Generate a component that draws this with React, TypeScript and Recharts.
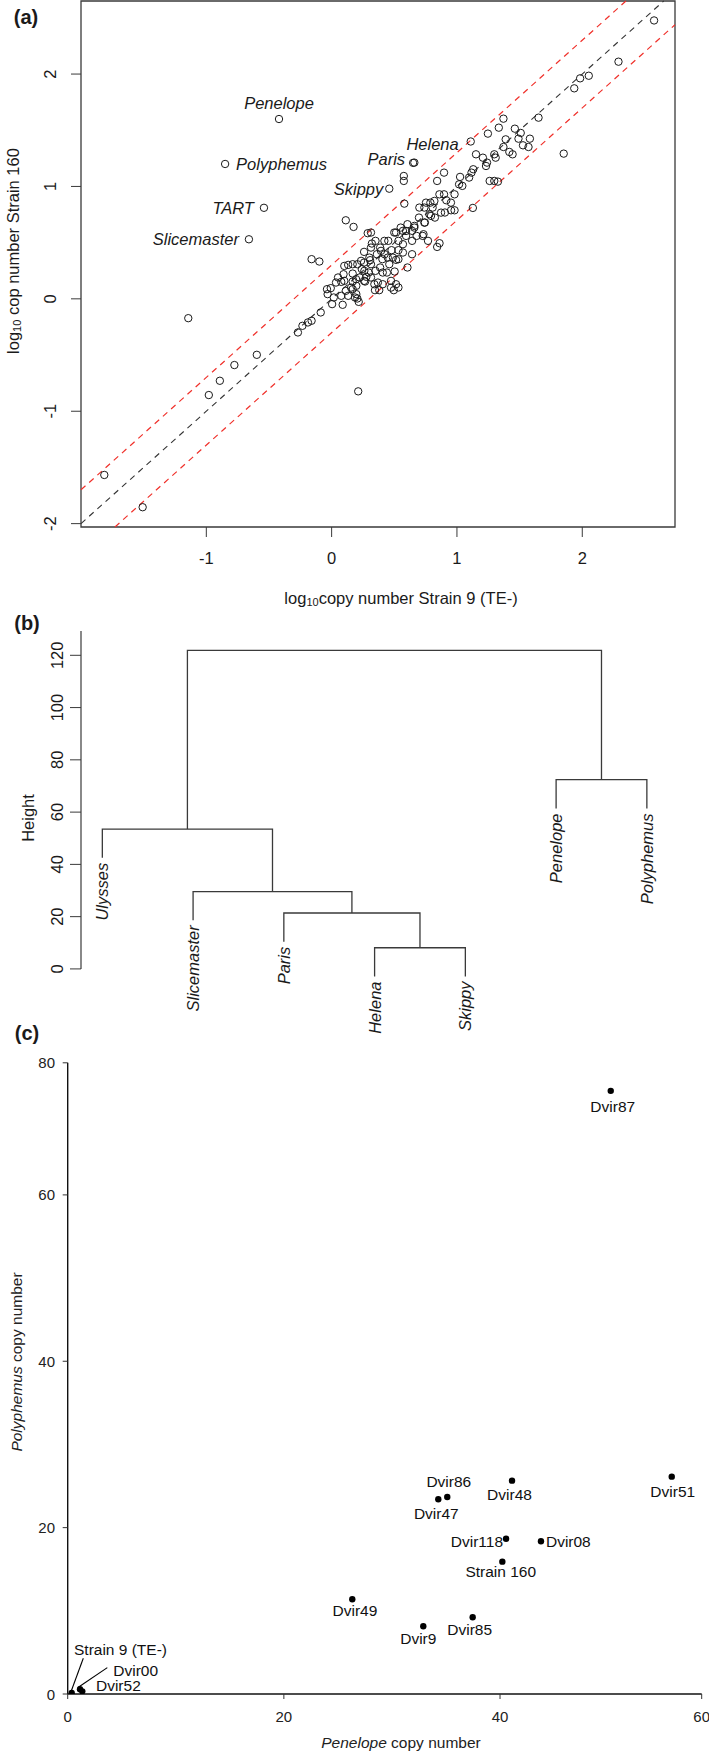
import React from 'react';
import { ScatterChart, Scatter, XAxis, YAxis, ReferenceLine, ReferenceArea } from 'recharts';

const FONT = '"Liberation Sans", Arial, Helvetica, sans-serif';
const INK = '#1a1a1a';
const LINE = '#3a3a3a';

// ---------------- Panel (a): log10 copy numbers ----------------
const strain9Log = [
  2.573, 2.289, 2.052, 1.983, 1.936, 1.651, 1.371, 1.334, 1.247, 1.462, 1.509, 1.389, 1.491, 1.582, 1.527, 1.571,
  1.371, 1.418, 1.444, 1.152, 1.207, 1.24, 1.309, 1.298, 1.232, 1.852, 1.13, 1.116, 1.097, 1.025, 1.017, 1.043,
  1.261, 1.298, 1.327, 0.981, 0.952, 0.897, 0.915, 0.842, 0.897, 1.127, 0.788, 0.806, 0.74, 0.824, 0.904, 0.981,
  0.78, 0.697, 0.744, 0.842, 0.861, 0.769, 0.733, 0.66, 0.678, 0.642, 0.569, 0.605, 0.551, 0.514, 0.594, 0.642,
  0.569, 0.533, 0.452, 0.35, 0.314, 0.321, 0.387, 0.478, 0.533, 0.569, 0.642, 0.423, 0.489, 0.361, 0.259, 0.307,
  0.405, 0.46, 0.533, 0.387, 0.314, 0.259, 0.205, 0.132, 0.241, 0.296, 0.35, 0.441, 0.503, 0.605, 0.168, 0.223,
  0.277, 0.095, 0.051, 0.077, 0.168, 0.259, 0.197, 0.314, 0.369, 0.514, 0.533, 0.496, 0.38, 0.168, 0.113, 0.077,
  0.132, 0.197, 0.205, 0.216, -0.007, -0.032, 0.004, 0.088, -0.087, -0.16, -0.189, -0.233, -0.269, 0.113, 0.175,
  -0.16, -0.098, 0.58, 0.576, 0.576, 0.66, -1.144, -0.597, -0.776, -0.892, -0.98, 0.212, -1.814, -1.508,
  -0.037, 0.035, 0.017, 0.101, 0.168, 0.235, 0.301, 0.261, 0.195, 0.155, 0.187, 0.267, 0.341, 0.408, 0.474,
  0.346, 0.408, 0.514, 0.448, 0.421, 0.394, 0.314, 0.288, 0.5, 0.594, 0.727, 0.66, 0.74, 0.793, 0.7, 0.753,
  0.82, 0.873, 0.953, 0.86, 0.474, 0.101,
];
const strain160Log = [
  2.477, 2.11, 1.985, 1.962, 1.873, 1.612, 1.603, 1.523, 1.47, 1.514, 1.476, 1.419, 1.425, 1.425, 1.366, 1.351,
  1.351, 1.307, 1.286, 1.286, 1.256, 1.212, 1.256, 1.286, 1.182, 1.292, 1.153, 1.123, 1.079, 1.085, 1.019, 1.005,
  1.049, 1.049, 1.043, 0.93, 0.856, 0.93, 0.877, 1.049, 1.123, 0.809, 0.856, 0.812, 0.812, 0.723, 0.768, 0.788,
  0.753, 0.723, 0.679, 0.462, 0.495, 0.516, 0.575, 0.634, 0.56, 0.605, 0.605, 0.664, 0.634, 0.59, 0.56, 0.516,
  0.486, 0.516, 0.516, 0.516, 0.59, 0.492, 0.456, 0.433, 0.433, 0.412, 0.397, 0.397, 0.367, 0.397, 0.418, 0.344,
  0.353, 0.308, 0.353, 0.279, 0.308, 0.323, 0.308, 0.302, 0.264, 0.234, 0.249, 0.234, 0.243, 0.279, 0.225, 0.19,
  0.196, 0.219, 0.19, 0.151, 0.154, 0.16, 0.116, 0.19, 0.145, 0.13, 0.101, 0.077, 0.077, 0.086, 0.071, 0.027,
  0.027, 0.042, 0.003, -0.027, 0.095, 0.042, -0.047, -0.053, -0.121, -0.195, -0.21, -0.24, -0.299, 0.699, 0.64,
  0.353, 0.332, 0.847, 1.049, 1.093, 1.212, -0.172, -0.498, -0.589, -0.729, -0.856, -0.823, -1.567, -1.854,
  0.086, 0.145, 0.012, 0.293, 0.308, 0.338, 0.367, 0.249, 0.175, 0.1, 0.012, 0.154, 0.13, 0.234, 0.16,
  0.077, 0.13, 0.347, 0.367, 0.516, 0.427, 0.456, 0.584, 0.59, 0.604, 0.56, 0.649, 0.678, 0.738, 0.812, 0.856,
  0.871, 0.767, 0.788, 0.93, 0.1, 0.16,
];
const namedTE = ['Penelope', 'Polyphemus', 'TART', 'Slicemaster', 'Skippy', 'Paris', 'Helena'];
const namedStrain9Log = [-0.42, -0.85, -0.54, -0.66, 0.46, 0.65, 1.11];
const namedStrain160Log = [1.6, 1.2, 0.81, 0.53, 0.98, 1.21, 1.4];
const aXTicks = [-1, 0, 1, 2];
const aYTicks = [-2, -1, 0, 1, 2];
const FOLD_OFFSET = Math.log10(2);

// ---------------- Panel (b): dendrogram ----------------
const leafNames = ['Ulysses', 'Slicemaster', 'Paris', 'Helena', 'Skippy', 'Penelope', 'Polyphemus'];
// hclust-style merge table: negative = leaf (1-based), positive = earlier merge (1-based)
const mergeLeft = [-4, -3, -2, -1, -6, 4];
const mergeRight = [-5, 1, 2, 3, -7, 5];
const mergeHeight = [8.1, 21.4, 29.6, 53.5, 72.4, 121.9];
const bYTicks = [0, 20, 40, 60, 80, 100, 120];
const HANG = 11;

// ---------------- Panel (c): Penelope vs Polyphemus ----------------
const strainNames = ['Dvir87', 'Dvir86', 'Dvir47', 'Dvir48', 'Dvir51', 'Dvir118', 'Dvir08', 'Strain 160', 'Dvir49', 'Dvir9', 'Dvir85', 'Strain 9 (TE-)', 'Dvir00', 'Dvir52'];
const penelopeCopies = [50.98, 35.12, 34.29, 41.19, 57.03, 40.6, 44.06, 40.23, 26.33, 32.9, 37.47, 0.37, 1.14, 1.35];
const polyphemusCopies = [75.75, 23.69, 23.41, 25.65, 26.13, 18.67, 18.36, 15.91, 11.39, 8.14, 9.22, 0.12, 0.57, 0.32];
const cXTicks = [0, 20, 40, 60];
const cYTicks = [0, 20, 40, 60, 80];

// ---------------- layout / style constants ----------------
const A_X0 = -2.0, A_X1 = 2.74, A_Y0 = -2.03, A_Y1 = 2.65;
// panel (b) plot region runs below the axis so that the leaf labels stay inside it
const B_X0 = 0.765, B_X1 = 7.31, B_Y0 = -27.2, B_Y1 = 129.3;
// panel (c) axes are drawn with a compressed last interval, as in the source figure
const C_XBREAK = 40, C_XK = 0.933, C_YBREAK = 60, C_YK = 0.794;
const warpX = (v: number) => (v <= C_XBREAK ? v : C_XBREAK + (v - C_XBREAK) * C_XK);
const warpY = (v: number) => (v <= C_YBREAK ? v : C_YBREAK + (v - C_YBREAK) * C_YK);

const aLabelPos: Record<string, { dx: number; dy: number; anchor: 'start' | 'middle' | 'end' }> = {
  Penelope: { dx: 0, dy: -16, anchor: 'middle' },
  Polyphemus: { dx: 11, dy: 0, anchor: 'start' },
  TART: { dx: -10, dy: 0, anchor: 'end' },
  Slicemaster: { dx: -10, dy: 0, anchor: 'end' },
  Skippy: { dx: -6, dy: 0, anchor: 'end' },
  Paris: { dx: -8, dy: -4, anchor: 'end' },
  Helena: { dx: -12, dy: 3, anchor: 'end' },
};

const cLabelPos: Record<string, { dx: number; dy: number; anchor: 'start' | 'middle' | 'end'; lead?: number[] }> = {
  Dvir87: { dx: 2, dy: 16, anchor: 'middle' },
  Dvir86: { dx: 1.5, dy: -15.5, anchor: 'middle' },
  Dvir47: { dx: -2, dy: 14, anchor: 'middle' },
  Dvir48: { dx: -2.5, dy: 13.6, anchor: 'middle' },
  Dvir51: { dx: 1, dy: 14.6, anchor: 'middle' },
  Dvir118: { dx: -3, dy: 3, anchor: 'end' },
  Dvir08: { dx: 5, dy: 0.5, anchor: 'start' },
  'Strain 160': { dx: -1.6, dy: 10.3, anchor: 'middle' },
  Dvir49: { dx: 2.7, dy: 11.4, anchor: 'middle' },
  Dvir9: { dx: -5, dy: 12, anchor: 'middle' },
  Dvir85: { dx: -3, dy: 11.7, anchor: 'middle' },
  'Strain 9 (TE-)': { dx: 2.3, dy: -43.7, anchor: 'start', lead: [-0.7, -1.3, 11.6, -34.7] },
  Dvir00: { dx: 33.3, dy: -18.3, anchor: 'start', lead: [-1.7, -2, 27.3, -21.6] },
  Dvir52: { dx: 13.7, dy: -5.6, anchor: 'start' },
};

// ---------------- derived chart tables ----------------
const aPoints = strain9Log.map((x, i) => ({ x, y: strain160Log[i] }));
const aNamed = namedTE.map((name, i) => ({ name, x: namedStrain9Log[i], y: namedStrain160Log[i] }));
const diagSegment = (off: number) => {
  const xs = Math.max(A_X0, A_Y0 - off);
  const xe = Math.min(A_X1, A_Y1 - off);
  return [{ x: xs, y: xs + off }, { x: xe, y: xe + off }];
};

const nodeX: number[] = [];
const childX = (c: number) => (c < 0 ? -c : nodeX[c - 1]);
const childH = (c: number, parentH: number) => (c < 0 ? parentH - HANG : mergeHeight[c - 1]);
mergeHeight.forEach((h, k) => {
  nodeX[k] = (childX(mergeLeft[k]) + childX(mergeRight[k])) / 2;
});
const links = mergeHeight.map((h, k) => {
  const l = mergeLeft[k], r = mergeRight[k];
  return [
    { x: childX(l), y: childH(l, h) },
    { x: childX(l), y: h },
    { x: childX(r), y: h },
    { x: childX(r), y: childH(r, h) },
  ];
});
const leafEnds: { x: number; y: number; name: string }[] = [];
mergeHeight.forEach((h, k) => {
  [mergeLeft[k], mergeRight[k]].forEach((c) => {
    if (c < 0) leafEnds.push({ x: -c, y: h - HANG, name: leafNames[-c - 1] });
  });
});

const cPoints = strainNames.map((name, i) => ({ name, x: warpX(penelopeCopies[i]), y: warpY(polyphemusCopies[i]) }));

// ---------------- shapes & ticks ----------------
const OpenCircle = (p: any) => <circle cx={p.cx} cy={p.cy} r={3.7} fill="none" stroke={INK} strokeWidth={1} />;

const NamedCircle = (p: any) => {
  const pos = aLabelPos[p.payload.name];
  return (
    <g>
      <circle cx={p.cx} cy={p.cy} r={3.7} fill="none" stroke={INK} strokeWidth={1} />
      <text x={p.cx + pos.dx} y={p.cy + pos.dy} textAnchor={pos.anchor} dominantBaseline="central" fontStyle="italic" fontSize={16.5} fill={INK} fontFamily={FONT}>
        {p.payload.name}
      </text>
    </g>
  );
};

const Empty = () => <g />;

const LeafLabel = (p: any) => (
  <text transform={`translate(${p.cx},${p.cy + 5}) rotate(-90)`} textAnchor="end" dominantBaseline="central" fontStyle="italic" fontSize={16.5} fill={INK} fontFamily={FONT}>
    {p.payload.name}
  </text>
);

const StrainDot = (p: any) => {
  const pos = cLabelPos[p.payload.name];
  return (
    <g>
      <circle cx={p.cx} cy={p.cy} r={3.2} fill="#000" />
      {pos.lead ? (
        <line x1={p.cx + pos.lead[0]} y1={p.cy + pos.lead[1]} x2={p.cx + pos.lead[2]} y2={p.cy + pos.lead[3]} stroke="#000" strokeWidth={1.1} />
      ) : null}
      <text x={p.cx + pos.dx} y={p.cy + pos.dy} textAnchor={pos.anchor} dominantBaseline="central" fontSize={15.5} fill="#111" fontFamily={FONT}>
        {p.payload.name}
      </text>
    </g>
  );
};

const ATickX = (p: any) => (
  <text x={p.x} y={p.y + 19} textAnchor="middle" dominantBaseline="central" fontSize={16.5} fill={INK} fontFamily={FONT}>
    {p.payload.value}
  </text>
);
const ATickY = (p: any) => (
  <text transform={`translate(${p.x - 19},${p.y}) rotate(-90)`} textAnchor="middle" dominantBaseline="central" fontSize={16.5} fill={INK} fontFamily={FONT}>
    {p.payload.value}
  </text>
);
const BTickY = (p: any) => (
  <text transform={`translate(${p.x - 11},${p.y}) rotate(-90)`} textAnchor="middle" dominantBaseline="central" fontSize={16.5} fill={INK} fontFamily={FONT}>
    {p.payload.value}
  </text>
);
const cXLabel = (v: number) => String(cXTicks.find((t) => Math.abs(warpX(t) - v) < 1e-6) ?? v);
const cYLabel = (v: number) => String(cYTicks.find((t) => Math.abs(warpY(t) - v) < 1e-6) ?? v);
const CTickX = (p: any) => (
  <text x={p.x} y={p.y + 15.7} textAnchor="middle" dominantBaseline="central" fontSize={15} fill="#222" fontFamily={FONT}>
    {cXLabel(p.payload.value)}
  </text>
);
const CTickY = (p: any) => (
  <text x={p.x - 5.7} y={p.y} textAnchor="end" dominantBaseline="central" fontSize={15} fill="#222" fontFamily={FONT}>
    {cYLabel(p.payload.value)}
  </text>
);

export default function App() {
  return (
    <div style={{ position: 'absolute', left: 0, top: 0, width: 709, height: 1752, background: '#fff', fontFamily: FONT }}>
      {/* (a) */}
      <div style={{ position: 'absolute', left: 0, top: 0 }}>
        <ScatterChart width={709} height={620} margin={{ top: 1, right: 34, bottom: 0, left: 0 }}>
          <XAxis type="number" dataKey="x" domain={[A_X0, A_X1]} ticks={aXTicks} allowDataOverflow axisLine={false} tickSize={10} tickLine={{ stroke: LINE }} height={93} tick={ATickX} interval={0} />
          <YAxis type="number" dataKey="y" domain={[A_Y0, A_Y1]} ticks={aYTicks} allowDataOverflow axisLine={false} tickSize={10} tickLine={{ stroke: LINE }} width={81} tick={ATickY} interval={0} />
          <ReferenceArea x1={A_X0} x2={A_X1} y1={A_Y0} y2={A_Y1} fill="none" stroke={LINE} strokeWidth={1.3} ifOverflow="visible" />
          <ReferenceLine segment={diagSegment(FOLD_OFFSET)} stroke="#f0302a" strokeWidth={1.2} strokeDasharray="6 5" ifOverflow="visible" />
          <ReferenceLine segment={diagSegment(-FOLD_OFFSET)} stroke="#f0302a" strokeWidth={1.2} strokeDasharray="6 5" ifOverflow="visible" />
          <ReferenceLine segment={diagSegment(0)} stroke="#333" strokeWidth={1.1} strokeDasharray="6 5" ifOverflow="visible" />
          <Scatter data={aPoints} shape={OpenCircle} isAnimationActive={false} />
          <Scatter data={aNamed} shape={NamedCircle} isAnimationActive={false} />
        </ScatterChart>
      </div>

      {/* (b) */}
      <div style={{ position: 'absolute', left: 0, top: 620 }}>
        <ScatterChart width={709} height={420} margin={{ top: 11, right: 34, bottom: 0, left: 0 }}>
          <XAxis type="number" dataKey="x" domain={[B_X0, B_X1]} hide allowDataOverflow />
          <YAxis type="number" dataKey="y" domain={[B_Y0, B_Y1]} ticks={bYTicks} allowDataOverflow axisLine={false} tickSize={11} tickLine={{ stroke: LINE }} width={81} tick={BTickY} interval={0} />
          <ReferenceLine segment={[{ x: B_X0, y: 0 }, { x: B_X0, y: B_Y1 }]} stroke={LINE} strokeWidth={1.2} ifOverflow="visible" />
          {links.map((pts, i) => (
            <Scatter key={i} data={pts} line={{ stroke: LINE, strokeWidth: 1.3 }} shape={Empty} isAnimationActive={false} />
          ))}
          <Scatter data={leafEnds} shape={LeafLabel} isAnimationActive={false} />
        </ScatterChart>
      </div>

      {/* (c) */}
      <div style={{ position: 'absolute', left: 0, top: 1040 }}>
        <ScatterChart width={709} height={712} margin={{ top: 22.8, right: 7.3, bottom: 0, left: 0 }}>
          <XAxis type="number" dataKey="x" domain={[0, warpX(60)]} ticks={cXTicks.map(warpX)} allowDataOverflow axisLine={{ stroke: '#111', strokeWidth: 1.4 }} tickSize={5} tickLine={{ stroke: '#333' }} height={58} tick={CTickX} interval={0} />
          <YAxis type="number" dataKey="y" domain={[0, warpY(80)]} ticks={cYTicks.map(warpY)} allowDataOverflow axisLine={{ stroke: '#111', strokeWidth: 1.4 }} tickSize={5} tickLine={{ stroke: '#333' }} width={67.7} tick={CTickY} interval={0} />
          <Scatter data={cPoints} shape={StrainDot} isAnimationActive={false} />
        </ScatterChart>
      </div>

      {/* titles */}
      <svg width={709} height={1752} style={{ position: 'absolute', left: 0, top: 0, pointerEvents: 'none' }}>
        <g fontFamily={FONT} fill={INK}>
          <text x={26} y={17} textAnchor="middle" dominantBaseline="central" fontWeight="bold" fontSize={20}>(a)</text>
          <text x={27} y={623} textAnchor="middle" dominantBaseline="central" fontWeight="bold" fontSize={20}>(b)</text>
          <text x={27} y={1033} textAnchor="middle" dominantBaseline="central" fontWeight="bold" fontSize={20}>(c)</text>

          <text transform="translate(13,251) rotate(-90)" textAnchor="middle" dominantBaseline="central" fontSize={16.5}>
            log<tspan fontSize={11} dy={4}>10</tspan>
            <tspan dy={-4}> cop number Strain 160</tspan>
          </text>
          <text x={401} y={598} textAnchor="middle" dominantBaseline="central" fontSize={16.5}>
            log<tspan fontSize={11} dy={4}>10</tspan>
            <tspan dy={-4}>copy number Strain 9 (TE-)</tspan>
          </text>

          <text transform="translate(28,818) rotate(-90)" textAnchor="middle" dominantBaseline="central" fontSize={16.5}>Height</text>

          <text x={401} y={1742} textAnchor="middle" dominantBaseline="central" fontSize={15.5} fill="#222">
            <tspan fontStyle="italic">Penelope</tspan> copy number
          </text>
          <text transform="translate(16,1362) rotate(-90)" textAnchor="middle" dominantBaseline="central" fontSize={15.5} fill="#222">
            <tspan fontStyle="italic">Polyphemus</tspan> copy number
          </text>
        </g>
      </svg>
    </div>
  );
}
